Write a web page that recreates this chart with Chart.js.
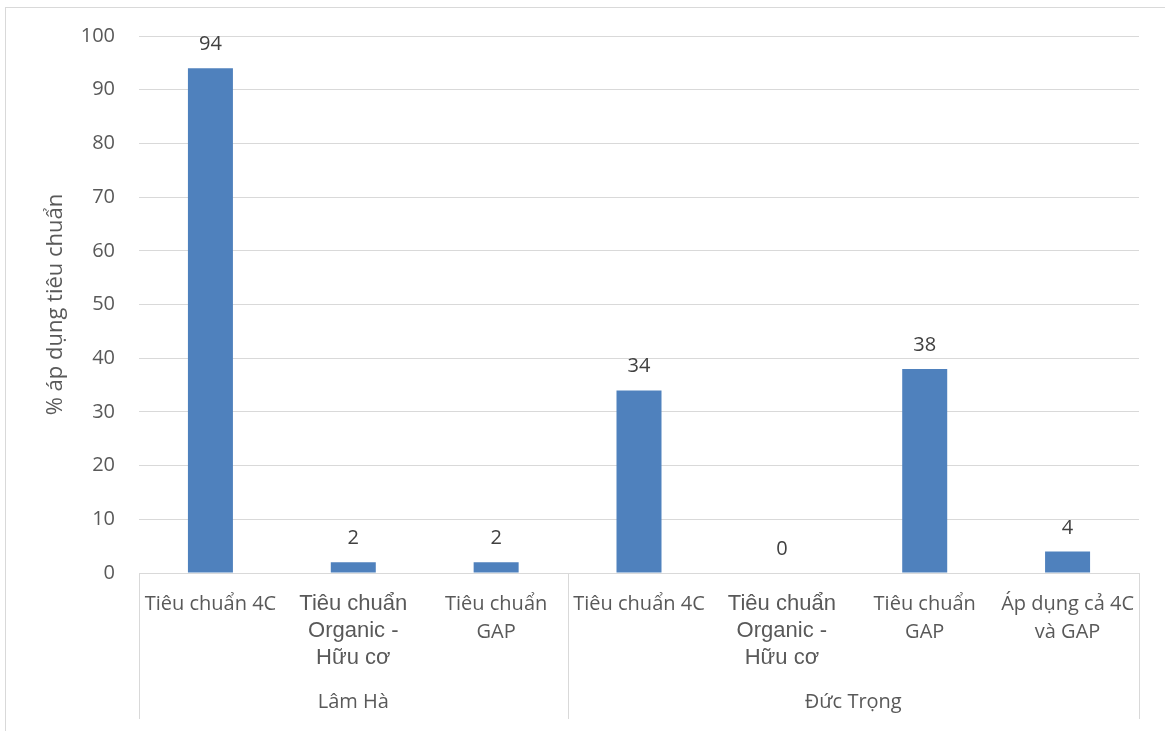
<!DOCTYPE html>
<html>
<head>
<meta charset="utf-8">
<script src="https://cdn.jsdelivr.net/npm/chart.js@4"></script>
<style>
  html, body { margin: 0; padding: 0; background: #ffffff; }
  #wrap { width: 1165px; height: 731px; position: relative; }
</style>
</head>
<body>
<div id="wrap"><canvas id="chart"></canvas></div>
<script>
// Category labels (multi-line), grouped by district
const categories = [
  ['Tiêu chuẩn 4C'],
  ['Tiêu chuẩn', 'Organic -', 'Hữu cơ'],
  ['Tiêu chuẩn', 'GAP'],
  ['Tiêu chuẩn 4C'],
  ['Tiêu chuẩn', 'Organic -', 'Hữu cơ'],
  ['Tiêu chuẩn', 'GAP'],
  ['Áp dụng cả 4C', 'và GAP']
];
const groupNames = ['Lâm Hà', 'Đức Trọng'];
const groupSizes = [3, 4];
const values = [94, 2, 2, 34, 0, 38, 4];
const yTicks = [0, 10, 20, 30, 40, 50, 60, 70, 80, 90, 100];
const yTitle = '% áp dụng tiêu chuẩn';

const TEXT = '#595959';
const LINE = '#d9d9d9';
const BASE_FONT = 'Open Sans';
const BASE_SIZE = 20;

// Outer frame, data labels, group labels and separator lines
const decorations = {
  id: 'decorations',
  beforeDraw(chart) {
    const ctx = chart.ctx;
    ctx.save();
    ctx.strokeStyle = LINE;
    ctx.lineWidth = 1;
    ctx.strokeRect(5.5, 7.5, chart.width + 10, chart.height + 10);
    ctx.restore();
  },
  afterDatasetsDraw(chart) {
    const ctx = chart.ctx;
    const x = chart.scales.x;
    const y = chart.scales.y;
    const area = chart.chartArea;
    const meta = chart.getDatasetMeta(0);

    ctx.save();
    // value labels above the bars
    ctx.font = BASE_SIZE + 'px "' + BASE_FONT + '"';
    ctx.fillStyle = '#404040';
    ctx.textAlign = 'center';
    ctx.textBaseline = 'alphabetic';
    meta.data.forEach((bar, i) => {
      ctx.fillText(String(values[i]), bar.x, y.getPixelForValue(values[i]) - 18);
    });

    // group separators below the axis
    const half = (x.getPixelForValue(1) - x.getPixelForValue(0)) / 2;
    const lineBottom = 719;
    ctx.strokeStyle = LINE;
    ctx.lineWidth = 1;
    let start = 0;
    const bounds = [x.getPixelForValue(0) - half];
    groupSizes.forEach(n => {
      start += n;
      bounds.push(x.getPixelForValue(start - 1) + half);
    });
    bounds.forEach(bx => {
      const px = Math.round(bx) + 0.5;
      ctx.beginPath();
      ctx.moveTo(px, area.bottom);
      ctx.lineTo(px, lineBottom);
      ctx.stroke();
    });

    // group names
    ctx.fillStyle = TEXT;
    ctx.font = BASE_SIZE + 'px "' + BASE_FONT + '"';
    ctx.textBaseline = 'middle';
    groupNames.forEach((name, g) => {
      ctx.fillText(name, (bounds[g] + bounds[g + 1]) / 2, 702);
    });
    ctx.restore();
  }
};

new Chart(document.getElementById('chart'), {
  type: 'bar',
  data: {
    labels: categories,
    datasets: [{
      data: values,
      backgroundColor: '#4f81bd',
      borderWidth: 0,
      categoryPercentage: 1,
      barPercentage: 0.315
    }]
  },
  options: {
    responsive: true,
    maintainAspectRatio: false,
    animation: false,
    devicePixelRatio: 1,
    layout: { padding: { left: 0, top: 36, right: 26, bottom: 0 } },
    plugins: {
      legend: { display: false },
      tooltip: { enabled: false }
    },
    scales: {
      x: {
        type: 'category',
        grid: { display: false, drawTicks: false },
        border: { display: false },
        ticks: {
          autoSkip: false,
          maxRotation: 0,
          minRotation: 0,
          padding: 17,
          color: TEXT,
          font: (c) => {
            const lbl = categories[c.index] || [];
            if (lbl.length === 3) {
              return { family: '"Liberation Sans", Arial', size: 22, lineHeight: 1.23 };
            }
            return { family: BASE_FONT, size: BASE_SIZE, lineHeight: 1.42 };
          }
        },
        afterFit(scale) { scale.height = 158; }
      },
      y: {
        min: 0,
        max: 100,
        afterBuildTicks(scale) { scale.ticks = yTicks.map(v => ({ value: v })); },
        grid: { color: LINE, lineWidth: 1, drawTicks: false },
        border: { display: false },
        ticks: {
          padding: 24,
          color: TEXT,
          font: { family: BASE_FONT, size: BASE_SIZE }
        },
        title: {
          display: true,
          text: yTitle,
          color: TEXT,
          font: { family: BASE_FONT, size: 22 },
          padding: { top: 43, bottom: 0 }
        },
        afterFit(scale) { scale.width = 139; }
      }
    }
  },
  plugins: [decorations]
});
</script>
</body>
</html>
